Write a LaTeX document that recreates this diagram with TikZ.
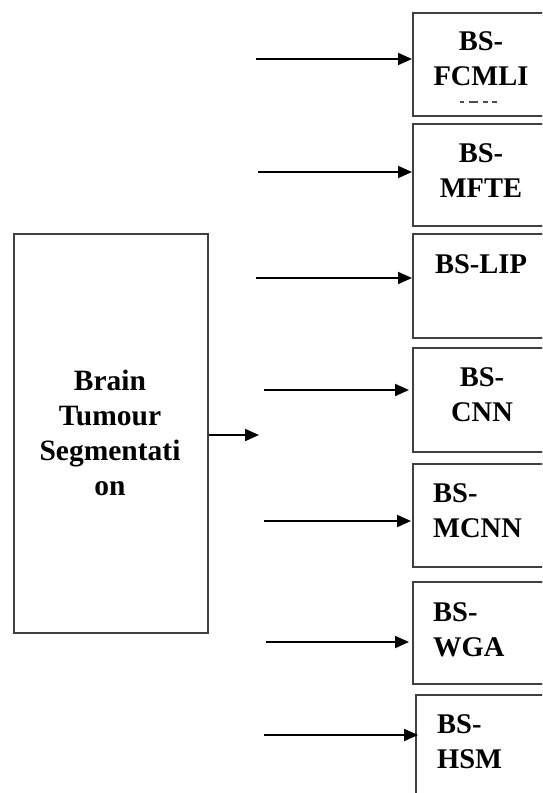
\documentclass[tikz,border=0pt]{standalone}
\usepackage{fontspec}
\setmainfont{Liberation Serif}
\usetikzlibrary{arrows.meta}
\begin{document}
\begin{tikzpicture}[x=1pt,y=-1pt,
  box/.style={draw=black!75,line width=1.7pt,anchor=north west,inner sep=0pt},
  lbl/.style={font=\fontsize{28.5}{35}\selectfont\bfseries,inner sep=0pt,align=center},
  lbll/.style={lbl,anchor=west,align=left},
  arr/.style={line width=2pt,-{Triangle[length=14pt,width=12pt]}}]
\useasboundingbox (0,0) rectangle (542,793);
\clip (0,0) rectangle (542,793);
\fill[white] (0,0) rectangle (542,793);
% main box
\node[box,minimum width=194pt,minimum height=399pt] (main) at (13,233) {};
\node[lbl,font=\fontsize{29.5}{35}\selectfont\bfseries] (mt) at (110,433) {Brain\\Tumour\\Segmentati\\on};
% right boxes
\node[box,minimum width=140pt,minimum height=103pt] (b1) at (412,12) {};
\node[box,minimum width=140pt,minimum height=102pt] (b2) at (412,123) {};
\node[box,minimum width=140pt,minimum height=104pt] (b3) at (412,233) {};
\node[box,minimum width=140pt,minimum height=104pt] (b4) at (412,347) {};
\node[box,minimum width=140pt,minimum height=103pt] (b5) at (412,463) {};
\node[box,minimum width=140pt,minimum height=102pt] (b6) at (412,581) {};
\node[box,minimum width=140pt,minimum height=120pt] (b7) at (415,694) {};
% texts
\node[lbl] (t1) at (481,59) {BS-\\FCMLI};
\coordinate (d1) at (460,102);
\coordinate (d2) at (499,102);
\draw[black!70,line width=1.6pt,dash pattern=on 4pt off 5pt on 9pt off 5pt on 5pt] (d1) -- (d2);
\node[lbl] (t2) at (481,171) {BS-\\MFTE};
\node[lbl] (t3) at (481,264) {BS-LIP};
\node[lbl] (t4) at (482,395) {BS-\\CNN};
\node[lbll] (t5) at (433,511) {BS-\\MCNN};
\node[lbll] (t6) at (433,630) {BS-\\WGA};
\node[lbll] (t7) at (437,742) {BS-\\HSM};
% arrow starts
\coordinate (s1) at (256,59);
\coordinate (s2) at (258,172);
\coordinate (s3) at (256,278);
\coordinate (s4) at (264,390);
\coordinate (s5) at (264,521);
\coordinate (s6) at (266,642);
\coordinate (s7) at (264,735);
\coordinate (m) at (259,435);
\draw[arr] (s1) -- (s1 -| b1.west);
\draw[arr] (s2) -- (s2 -| b2.west);
\draw[arr] (s3) -- (s3 -| b3.west);
\draw[arr] (s4) -- ([xshift=-3pt]s4 -| b4.west);
\draw[arr] (s5) -- ([xshift=-1pt]s5 -| b5.west);
\draw[arr] (s6) -- ([xshift=-3pt]s6 -| b6.west);
\draw[arr] (s7) -- ([xshift=3pt]s7 -| b7.west);
\draw[arr] (main.east |- m) -- (m);
\end{tikzpicture}
\end{document}
